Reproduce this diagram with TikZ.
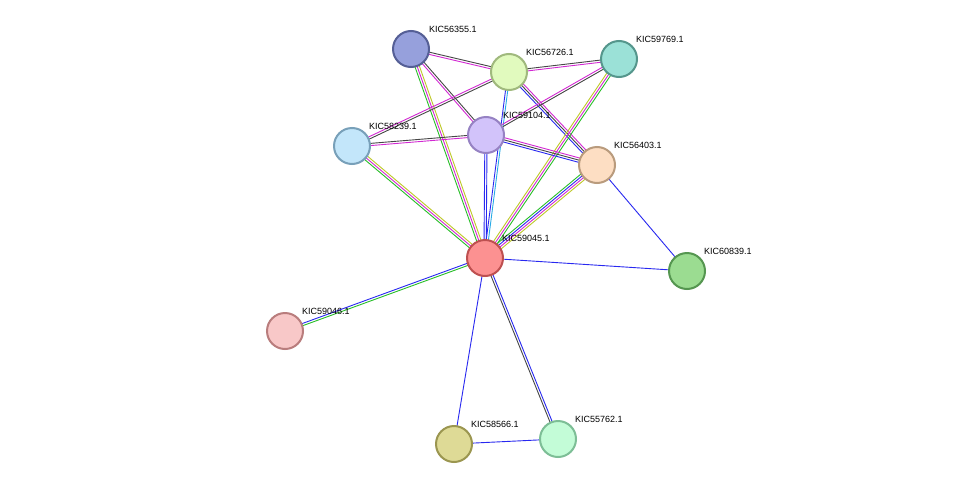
\documentclass[tikz,border=0pt]{standalone}
\usepackage{fontspec}
\setmainfont{Liberation Sans}
\usetikzlibrary{calc}
\definecolor{cmag}{RGB}{210,40,210}
\definecolor{cgray}{RGB}{70,70,70}
\definecolor{cblue}{RGB}{40,40,240}
\definecolor{cgreen}{RGB}{40,190,40}
\definecolor{cyel}{RGB}{190,200,40}
\definecolor{ccyan}{RGB}{40,170,230}
\newcommand{\multiedge}[3]{%
 \foreach \c [count=\i] in {#3} {\xdef\nn{\i}}%
 \foreach \c [count=\i] in {#3} {%
   \pgfmathsetmacro{\off}{(\i-(\nn+1)/2)*2.2}%
   \draw[\c, line width=0.9pt] ($(#1)!\off pt!90:(#2)$) -- ($(#2)!\off pt!-90:(#1)$);}}
\tikzset{prot/.style={circle, minimum size=36pt, inner sep=0pt, line width=2pt},
 lbl/.style={font=\fontsize{9}{10}\selectfont, anchor=south west, inner sep=1pt}}
\begin{document}
\begin{tikzpicture}[x=1pt,y=-1pt]
\path[fill=white] (0,0) rectangle (976,490);
\useasboundingbox (0,0) rectangle (976,490);
\coordinate (a) at (411,49);
\coordinate (b) at (509,72);
\coordinate (c) at (619,59);
\coordinate (d) at (352,146);
\coordinate (e) at (486,135);
\coordinate (f) at (597,165);
\coordinate (g) at (485,258);
\coordinate (h) at (687,271);
\coordinate (i) at (285,331);
\coordinate (j) at (454,444);
\coordinate (k) at (558,439);
\multiedge{a}{b}{cmag,cgray}
\multiedge{a}{e}{cmag,cgray}
\multiedge{a}{g}{cgreen,cmag,cyel}
\multiedge{b}{c}{cmag,cgray}
\multiedge{b}{d}{cmag,cgray}
\multiedge{b}{g}{cblue,ccyan}
\multiedge{b}{f}{cblue,cgray,cmag}
\multiedge{c}{e}{cmag,cgray}
\multiedge{c}{g}{cyel,cmag,cgreen}
\multiedge{d}{e}{cmag,cgray}
\multiedge{d}{g}{cgreen,cmag,cyel}
\multiedge{e}{f}{cblue,cgray,cmag}
\multiedge{e}{g}{cblue,cblue}
\multiedge{f}{g}{cgreen,cblue,cmag,cyel}
\multiedge{f}{h}{cblue}
\multiedge{g}{h}{cblue}
\multiedge{g}{i}{cblue,cgreen}
\multiedge{g}{j}{cblue}
\multiedge{g}{k}{cgray,cblue}
\multiedge{j}{k}{cblue}
\node[prot, fill={rgb,255:red,150;green,160;blue,220}, draw={rgb,255:red,85;green,95;blue,150}] (A) at (a) {};
\node[prot, fill={rgb,255:red,225;green,250;blue,190}, draw={rgb,255:red,160;green,185;blue,125}] (B) at (b) {};
\node[prot, fill={rgb,255:red,155;green,225;blue,215}, draw={rgb,255:red,85;green,150;blue,140}] (C) at (c) {};
\node[prot, fill={rgb,255:red,195;green,230;blue,250}, draw={rgb,255:red,120;green,160;blue,185}] (D) at (d) {};
\node[prot, fill={rgb,255:red,210;green,195;blue,250}, draw={rgb,255:red,150;green,130;blue,195}] (E) at (e) {};
\node[prot, fill={rgb,255:red,253;green,222;blue,195}, draw={rgb,255:red,185;green,155;blue,125}] (F) at (f) {};
\node[prot, fill={rgb,255:red,252;green,145;blue,145}, draw={rgb,255:red,190;green,80;blue,80}] (G) at (g) {};
\node[prot, fill={rgb,255:red,155;green,220;blue,145}, draw={rgb,255:red,85;green,150;blue,80}] (H) at (h) {};
\node[prot, fill={rgb,255:red,248;green,200;blue,200}, draw={rgb,255:red,185;green,125;blue,125}] (I) at (i) {};
\node[prot, fill={rgb,255:red,222;green,218;blue,150}, draw={rgb,255:red,155;green,150;blue,80}] (J) at (j) {};
\node[prot, fill={rgb,255:red,195;green,252;blue,215}, draw={rgb,255:red,125;green,190;blue,150}] (K) at (k) {};
\node[lbl] (la) at (428,34) {KIC56355.1};
\node[lbl] (lb) at (525,57) {KIC56726.1};
\node[lbl] (lc) at (635,44) {KIC59769.1};
\node[lbl] (ld) at (368,131) {KIC58239.1};
\node[lbl] (le) at (502,120) {KIC59104.1};
\node[lbl] (lf) at (613,150) {KIC56403.1};
\node[lbl] (lg) at (501,243) {KIC59045.1};
\node[lbl] (lh) at (703,256) {KIC60839.1};
\node[lbl] (li) at (301,316) {KIC59046.1};
\node[lbl] (lj) at (470,429) {KIC58566.1};
\node[lbl] (lk) at (574,424) {KIC55762.1};
\end{tikzpicture}
\end{document}
